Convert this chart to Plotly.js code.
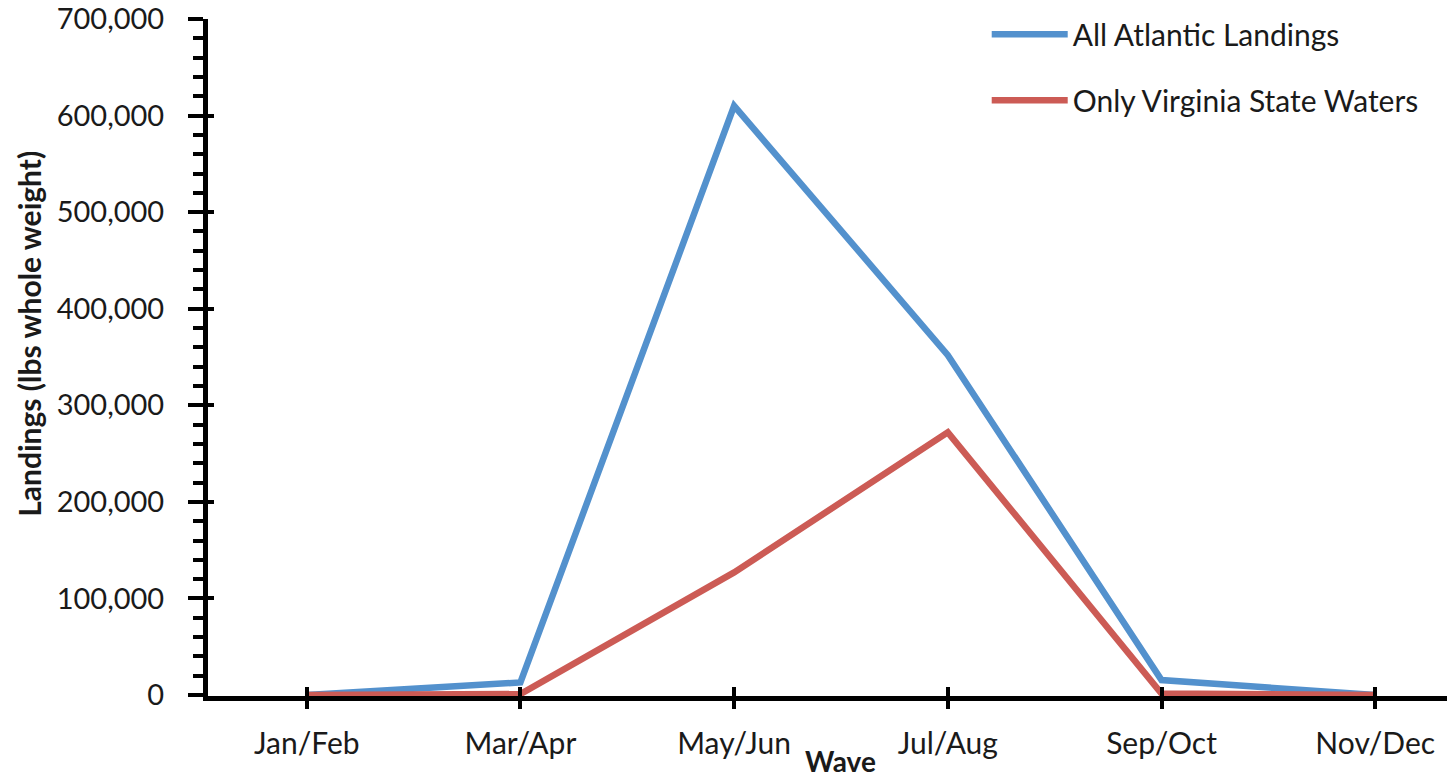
<!DOCTYPE html>
<html>
<head>
<meta charset="utf-8">
<script src="https://cdn.plot.ly/plotly-3.0.1.min.js"></script>
<style>
  html, body { margin: 0; padding: 0; background: #ffffff; overflow: hidden; }
  #chart { width: 1447px; height: 782px; }
</style>
</head>
<body>
<div id="chart"></div>
<script>
// ---- Data ----
const waves = ['Jan/Feb', 'Mar/Apr', 'May/Jun', 'Jul/Aug', 'Sep/Oct', 'Nov/Dec'];
const allAtlanticLandings = [0, 13000, 610000, 352000, 15500, 0];
const onlyVirginiaStateWaters = [0, 1000, 127000, 272000, 1500, 0];
const seriesNames = ['All Atlantic Landings', 'Only Virginia State Waters'];
const xTitle = 'Wave';
const yTitle = 'Landings (lbs whole weight)';

const FONT = 'Lato, "Open Sans", "DejaVu Sans", sans-serif';
const TXT = '#1a1a1a';
const xRange = [-0.462, 5.336];
const yRange = [-1000, 700000];

const traces = [
  {
    x: waves, y: allAtlanticLandings, name: seriesNames[0],
    type: 'scatter', mode: 'lines',
    line: { color: '#5391cd', width: 6.5 },
    legendgroup: 'a', hoverinfo: 'x+y'
  },
  {
    x: waves, y: onlyVirginiaStateWaters, name: seriesNames[1],
    type: 'scatter', mode: 'lines',
    line: { color: '#cc5b55', width: 6.5 },
    legendgroup: 'b', hoverinfo: 'x+y'
  },
  {
    // invisible helper so the overlay axes (inner half of the cross ticks) are drawn
    x: waves, y: allAtlanticLandings, xaxis: 'x2', yaxis: 'y2',
    type: 'scatter', mode: 'none', showlegend: false, hoverinfo: 'skip'
  }
];

const layout = {
  width: 1447, height: 782,
  margin: { l: 208, r: 0, t: 19, b: 86, pad: 0 },
  paper_bgcolor: '#ffffff', plot_bgcolor: '#ffffff',
  font: { family: FONT, color: TXT },
  showlegend: true,
  legend: {
    x: 0.6285, xanchor: 'left', y: 1.016, yanchor: 'top',
    bgcolor: 'rgba(0,0,0,0)', borderwidth: 0,
    font: { family: FONT, size: 30, color: TXT },
    traceorder: 'grouped', tracegroupgap: 24, itemwidth: 76
  },
  xaxis: {
    type: 'category', categoryorder: 'array', categoryarray: waves,
    range: xRange, fixedrange: true,
    showline: true, linecolor: '#000000', linewidth: 5,
    ticks: 'outside', ticklen: 8, tickwidth: 4, tickcolor: '#000000',
    showgrid: false, zeroline: false,
    tickfont: { family: FONT, size: 30, color: TXT },
    ticklabelstandoff: 9
  },
  yaxis: {
    range: yRange, fixedrange: true,
    tickmode: 'linear', tick0: 0, dtick: 100000, tickformat: ',',
    showline: true, linecolor: '#000000', linewidth: 5,
    ticks: 'outside', ticklen: 15, tickwidth: 4, tickcolor: '#000000',
    minor: { tick0: 0, dtick: 20000, ticks: 'outside', ticklen: 10, tickwidth: 4, tickcolor: '#000000', showgrid: false },
    showgrid: false, zeroline: false,
    tickfont: { family: FONT, size: 29, color: TXT },
    ticklabelstandoff: 18
  },
  xaxis2: {
    overlaying: 'x', side: 'bottom', anchor: 'y2',
    type: 'category', categoryorder: 'array', categoryarray: waves,
    range: xRange, fixedrange: true,
    showline: false, showgrid: false, zeroline: false, showticklabels: false,
    ticks: 'inside', ticklen: 9, tickwidth: 4, tickcolor: '#000000'
  },
  yaxis2: {
    overlaying: 'y', side: 'left', anchor: 'x2',
    range: yRange, fixedrange: true,
    tickmode: 'linear', tick0: 0, dtick: 100000,
    showline: false, showgrid: false, zeroline: false, showticklabels: false,
    ticks: 'inside', ticklen: 6, tickwidth: 4, tickcolor: '#000000'
  },
  annotations: [
    {
      text: xTitle, xref: 'x', yref: 'paper', x: 2.5, y: -0.0965,
      xanchor: 'center', yanchor: 'middle', showarrow: false,
      font: { family: FONT, size: 28, color: TXT, weight: 700 }
    },
    {
      text: yTitle, xref: 'paper', yref: 'paper', x: -0.1445, y: 0.535,
      xanchor: 'center', yanchor: 'middle', showarrow: false, textangle: -90,
      font: { family: FONT, size: 30, color: TXT, weight: 700 }
    }
  ]
};

Plotly.newPlot('chart', traces, layout, { displayModeBar: false, staticPlot: false, responsive: false });
</script>
</body>
</html>
